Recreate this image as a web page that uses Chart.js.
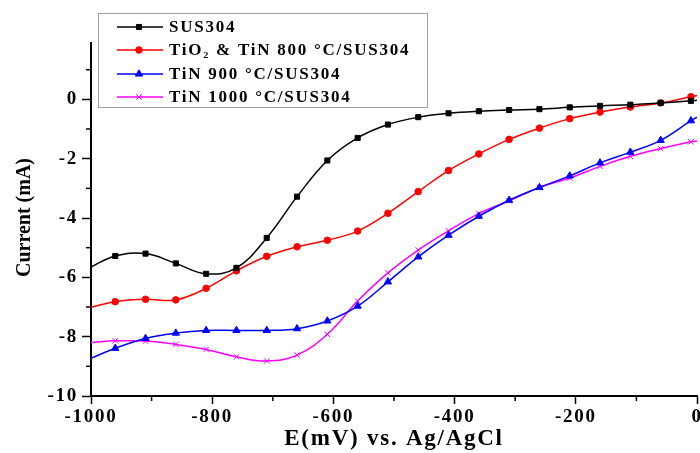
<!DOCTYPE html>
<html>
<head>
<meta charset="utf-8">
<script src="https://cdn.jsdelivr.net/npm/chart.js@4.4.0/dist/chart.umd.min.js"></script>
<style>
  html, body { margin: 0; padding: 0; background: #fff; }
  #wrap { width: 700px; height: 453px; position: relative; }
</style>
</head>
<body>
<div id="wrap"><canvas id="chart"></canvas></div>
<script>
// potential (mV): line ends at -1000 and 0, markers every 50 mV in between
const potentials = [-1000, -960, -910, -860, -810, -760, -710, -660, -610, -560, -510,
  -460, -410, -360, -310, -260, -210, -160, -110, -60, -10, 0];

const sus304 = [-5.65, -5.28, -5.20, -5.53, -5.88, -5.68, -4.67, -3.28, -2.06, -1.30, -0.85,
  -0.60, -0.47, -0.40, -0.36, -0.33, -0.27, -0.22, -0.18, -0.12, -0.05, -0.03];
const tin800 = [-7.01, -6.82, -6.74, -6.76, -6.37, -5.78, -5.29, -4.97, -4.75, -4.44, -3.84,
  -3.11, -2.40, -1.84, -1.35, -0.97, -0.65, -0.43, -0.26, -0.12, 0.09, 0.13];
const tin900 = [-8.73, -8.39, -8.06, -7.88, -7.79, -7.79, -7.79, -7.73, -7.47, -6.97, -6.15,
  -5.31, -4.58, -3.94, -3.40, -2.97, -2.58, -2.14, -1.78, -1.38, -0.72, -0.60];
const tin1000 = [-8.20, -8.14, -8.15, -8.26, -8.43, -8.68, -8.82, -8.62, -7.92, -6.80, -5.85,
  -5.08, -4.43, -3.85, -3.42, -2.97, -2.65, -2.26, -1.92, -1.66, -1.43, -1.40];

const seriesNames = ['SUS304', 'TiO\u2082 & TiN 800 \u00B0C/SUS304', 'TiN 900 \u00B0C/SUS304', 'TiN 1000 \u00B0C/SUS304'];
const xTitle = 'E(mV) vs. Ag/AgCl';
const yTitle = 'Current (mA)';

const FONT = "'Liberation Serif', 'Times New Roman', serif";
const WIDE = '1.75px'; // the original figure's text is stretched sideways

function toPoints(ys) {
  return potentials.map((x, i) => ({ x: x, y: ys[i] }));
}

// no marker on the two end points of each curve
function markerRadius(r) {
  return ctx => (ctx.dataIndex === 0 || ctx.dataIndex === potentials.length - 1) ? 0 : r;
}

function makeSet(label, ys, color, style, r) {
  return {
    label: label,
    data: toPoints(ys),
    borderColor: color,
    backgroundColor: color,
    borderWidth: 1.5,
    tension: 0.4,
    pointStyle: style,
    pointRadius: markerRadius(r),
    legendRadius: r,
    pointBorderWidth: 1,
    pointBorderColor: color,
    pointBackgroundColor: color
  };
}

// wide text, minor ticks, y title and legend box
const extras = {
  id: 'extras',
  beforeDraw(chart) {
    chart.ctx.letterSpacing = WIDE;
  },
  afterDraw(chart) {
    const c = chart.ctx;
    const xs = chart.scales.x, ys = chart.scales.y;
    c.save();
    c.strokeStyle = '#000';
    c.lineWidth = 1.5;
    for (let v = -900; v < 0; v += 200) {
      const px = xs.getPixelForValue(v);
      c.beginPath(); c.moveTo(px, xs.top); c.lineTo(px, xs.top + 5); c.stroke();
    }
    for (let v = -9; v <= 1; v += 2) {
      const py = ys.getPixelForValue(v);
      c.beginPath(); c.moveTo(ys.right, py); c.lineTo(ys.right - 5, py); c.stroke();
    }

    // y axis title (not stretched: it runs along the vertical)
    c.save();
    c.letterSpacing = '0px';
    c.translate(25, (ys.top + ys.bottom) / 2 - 2);
    c.rotate(-Math.PI / 2);
    c.font = 'bold 20px ' + FONT;
    c.fillStyle = '#000';
    c.textAlign = 'center';
    c.textBaseline = 'middle';
    c.fillText(yTitle, 0, 0);
    c.restore();

    // legend
    const bx = 98, by = 13, bw = 329, bh = 94;
    c.fillStyle = '#fff';
    c.fillRect(bx, by, bw, bh);
    c.strokeStyle = '#a0a0a0';
    c.lineWidth = 1;
    c.strokeRect(bx + 0.5, by + 0.5, bw, bh);
    const rows = [27, 50, 74, 97];
    c.font = 'bold 17px ' + FONT;
    c.textBaseline = 'middle';
    c.letterSpacing = WIDE;
    chart.data.datasets.forEach((ds, i) => {
      const y = rows[i];
      c.strokeStyle = ds.borderColor;
      c.fillStyle = ds.borderColor;
      c.lineWidth = 1.5;
      c.beginPath(); c.moveTo(117, y); c.lineTo(163, y); c.stroke();
      c.lineWidth = 1;
      Chart.helpers.drawPoint(c, {
        pointStyle: ds.pointStyle, radius: ds.legendRadius, borderWidth: 1
      }, 139, y);
      c.fillStyle = '#000';
      c.fillText(ds.label, 169, y + 1);
    });
    c.restore();
    c.letterSpacing = '0px';
  }
};

Chart.register(extras);

new Chart(document.getElementById('chart'), {
  type: 'line',
  data: {
    datasets: [
      makeSet(seriesNames[0], sus304, '#000000', 'rect', 3.6),
      makeSet(seriesNames[1], tin800, '#ff0000', 'circle', 3.3),
      makeSet(seriesNames[2], tin900, '#0000ff', 'triangle', 4.2),
      makeSet(seriesNames[3], tin1000, '#ff00ff', 'crossRot', 3.8)
    ]
  },
  options: {
    responsive: true,
    maintainAspectRatio: false,
    animation: false,
    layout: { padding: { top: 43, right: 0, left: 0, bottom: 0 } },
    plugins: {
      legend: { display: false },
      tooltip: { enabled: false }
    },
    scales: {
      x: {
        type: 'linear',
        min: -1000,
        max: 0,
        afterFit: s => { s.height = 57; s.paddingRight = 3; },
        border: { color: '#000', width: 2 },
        grid: { drawOnChartArea: false, drawTicks: true, tickLength: 8, tickColor: '#000', tickWidth: 1.5 },
        ticks: {
          stepSize: 200,
          color: '#000',
          padding: 2,
          maxRotation: 0,
          callback: v => String(v),
          font: { family: FONT, size: 19, weight: 'bold' }
        },
        title: {
          display: true,
          text: xTitle,
          color: '#000',
          padding: { top: 0, bottom: 0 },
          font: { family: FONT, size: 23, weight: 'bold' }
        }
      },
      y: {
        min: -10,
        max: 1.9,
        afterFit: s => { s.width = 91; },
        afterBuildTicks: s => { s.ticks = s.ticks.filter(t => Math.abs(t.value % 2) < 1e-6); },
        border: { color: '#000', width: 2 },
        grid: { drawOnChartArea: false, drawTicks: true, tickLength: 9, tickColor: '#000', tickWidth: 1.5 },
        ticks: {
          stepSize: 2,
          color: '#000',
          padding: 4,
          font: { family: FONT, size: 19, weight: 'bold' }
        }
      }
    }
  }
});
</script>
</body>
</html>
